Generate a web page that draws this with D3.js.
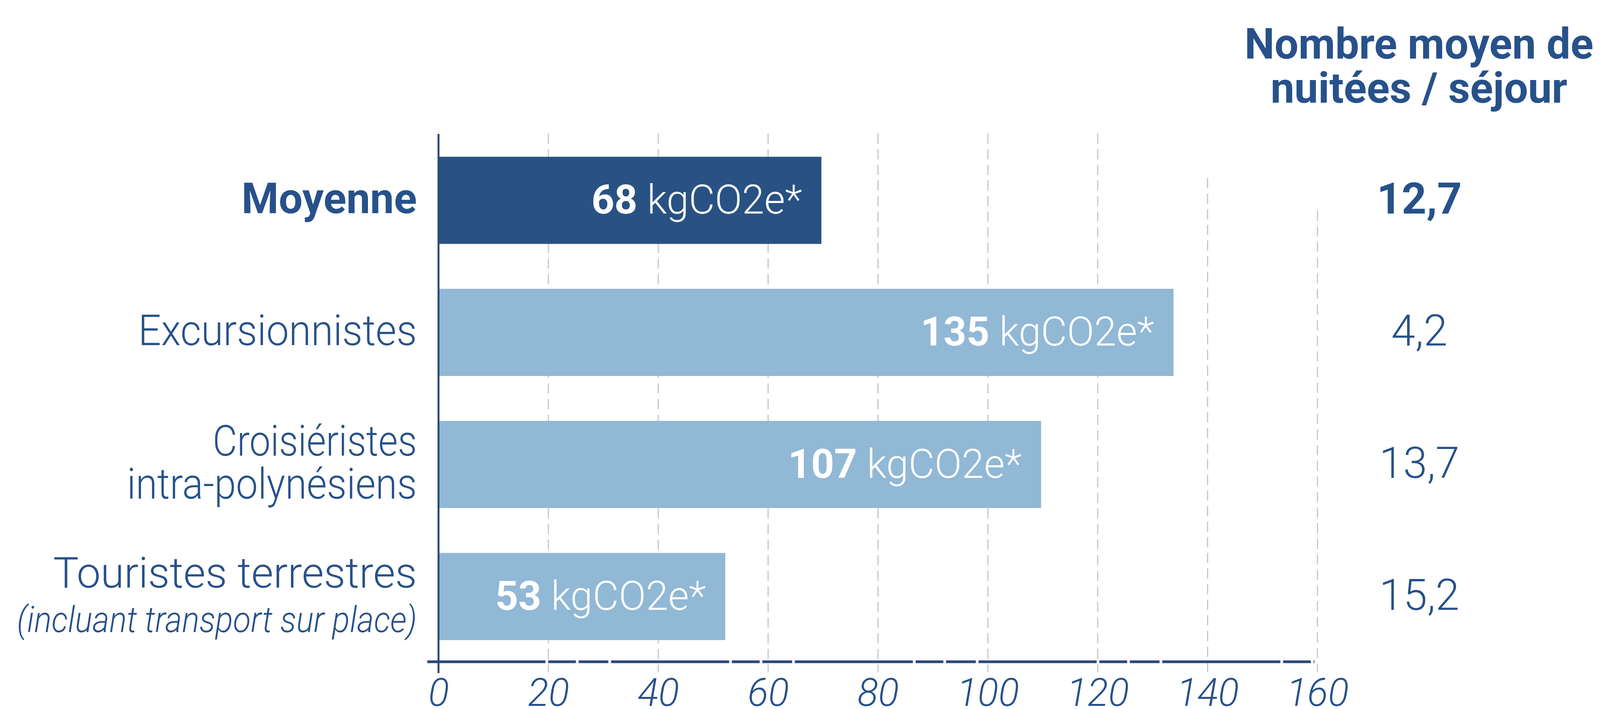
<!DOCTYPE html>
<html>
<head>
<meta charset="utf-8">
<script src="https://cdn.jsdelivr.net/npm/d3@7"></script>
<style>
  html, body { margin: 0; padding: 0; background: #fff; width: 100%; height: 100%; overflow: hidden; }
  svg { display: block; width: 100vw; height: 100vh; font-family: Roboto, "Open Sans", sans-serif; }
</style>
</head>
<body>
<svg id="chart"></svg>
<script>
// data
const categories = ['Moyenne', 'Excursionnistes', 'Croisiéristes', 'Touristes terrestres'];
const categoryLines = [['Moyenne'], ['Excursionnistes'], ['Croisiéristes', 'intra-polynésiens'], ['Touristes terrestres']];
const categoryNotes = ['', '', '', '(incluant transport sur place)'];
const emissions = [68, 135, 107, 53];           // kgCO2e* shown in the bars
const barLengths = [69.7, 133.8, 109.7, 52.2];  // where each bar actually ends
const nights = ['12,7', '4,2', '13,7', '15,2'];
const xTicks = [0, 20, 40, 60, 80, 100, 120, 140, 160];
const headerLines = ['Nombre moyen de', 'nuitées / séjour'];

const W = 4145, H = 1816;
const dark = '#285283', light = '#91b8d5', ink = '#27518a', axisInk = '#2a4a78', grid = '#c6c6c6';
// the original typeface is a bit narrower than Roboto Light
const lineWidths = {'Excursionnistes': 722, 'Croisiéristes': 529, 'intra-polynésiens': 751, 'Touristes terrestres': 942};

// fill whatever the viewport is
const svg = d3.select('#chart')
    .attr('viewBox', `0 0 ${W} ${H}`)
    .attr('preserveAspectRatio', 'none');

const x = d3.scaleLinear().domain([0, 160]).range([1136, 3413]);
const y = d3.scaleBand().domain(categories).range([344, 1697])
    .paddingInner(0.34).paddingOuter(0.17);
const mid = (c) => y(c) + y.bandwidth() / 2;

// dashed grid lines (they start lower on the right, under the header)
const gridTop = (v) => v <= 120 ? 342 : (v === 140 ? 456 : 540);
svg.append('g')
    .selectAll('line')
    .data(xTicks.filter(v => v > 0))
    .enter()
    .append('line')
    .attr('x1', d => x(d))
    .attr('x2', d => x(d))
    .attr('y1', gridTop)
    .attr('y2', 1722)
    .attr('stroke', grid)
    .attr('stroke-width', 3)
    .attr('stroke-dasharray', '26,14');

// bars
svg.append('g')
    .selectAll('rect')
    .data(categories)
    .enter()
    .append('rect')
    .attr('x', x(0))
    .attr('y', d => y(d))
    .attr('width', (d, i) => x(barLengths[i]) - x(0))
    .attr('height', y.bandwidth())
    .attr('fill', (d, i) => i === 0 ? dark : light);

// value labels inside the bars
const vl = svg.append('g')
    .selectAll('text')
    .data(categories)
    .enter()
    .append('text')
    .attr('x', (d, i) => x(barLengths[i]) - 50)
    .attr('y', d => mid(d) + 34)
    .attr('text-anchor', 'end')
    .attr('fill', '#fff')
    .style('font-size', '104px');
vl.append('tspan').attr('font-weight', 700).text((d, i) => emissions[i]);
vl.append('tspan').attr('font-weight', 300).text(' kgCO2e*');

// category labels
categories.forEach((c, i) => {
    const lines = categoryLines[i];
    const top = lines.length > 1 || categoryNotes[i] ? mid(c) - 23 : mid(c) + 33;
    lines.forEach((l, j) => {
        const t = svg.append('text')
            .attr('x', 1080)
            .attr('y', top + j * 110)
            .attr('text-anchor', 'end')
            .attr('fill', ink)
            .attr('font-weight', i === 0 ? 700 : 300)
            .style('font-size', '110px')
            .text(l);
        if (lineWidths[l]) {
            t.attr('textLength', lineWidths[l]).attr('lengthAdjust', 'spacingAndGlyphs');
        }
    });
    if (categoryNotes[i]) {
        svg.append('text')
            .attr('x', 1080)
            .attr('y', top + 114)
            .attr('text-anchor', 'end')
            .attr('fill', ink)
            .attr('font-weight', 300)
            .attr('font-style', 'italic')
            .attr('textLength', 1036)
            .attr('lengthAdjust', 'spacingAndGlyphs')
            .style('font-size', '92px')
            .text(categoryNotes[i]);
    }
});

// right column: header + nights per stay
headerLines.forEach((l, j) => {
    svg.append('text')
        .attr('x', 3676)
        .attr('y', 150 + j * 113)
        .attr('text-anchor', 'middle')
        .attr('fill', ink)
        .attr('font-weight', 700)
        .style('font-size', '110px')
        .text(l);
});
svg.append('g')
    .selectAll('text')
    .data(categories)
    .enter()
    .append('text')
    .attr('x', 3677)
    .attr('y', d => mid(d) + 34)
    .attr('text-anchor', 'middle')
    .attr('fill', ink)
    .attr('font-weight', (d, i) => i === 0 ? 700 : 300)
    .style('font-size', '112px')
    .text((d, i) => nights[i]);

// axes
svg.append('line')
    .attr('x1', x(0)).attr('x2', x(0))
    .attr('y1', 343).attr('y2', 1724)
    .attr('stroke', axisInk)
    .attr('stroke-width', 5);

svg.append('line')
    .attr('x1', x(0) - 29).attr('x2', x(160) - 8)
    .attr('y1', 1695).attr('y2', 1695)
    .attr('stroke', axisInk)
    .attr('stroke-width', 7)
    .attr('stroke-dasharray', '306,7,72,7,77,7');

const xAxis = svg.append('g')
    .attr('transform', 'translate(0,1695)')
    .call(d3.axisBottom(x).tickValues(xTicks).tickSize(0).tickFormat(d3.format('d')));
xAxis.select('.domain').remove();
xAxis.selectAll('text')
    .attr('y', 113)
    .attr('dy', 0)
    .attr('fill', ink)
    .attr('font-weight', 300)
    .attr('font-style', 'italic')
    .style('font-family', 'Roboto, sans-serif')
    .style('font-size', '100px');
</script>
</body>
</html>
